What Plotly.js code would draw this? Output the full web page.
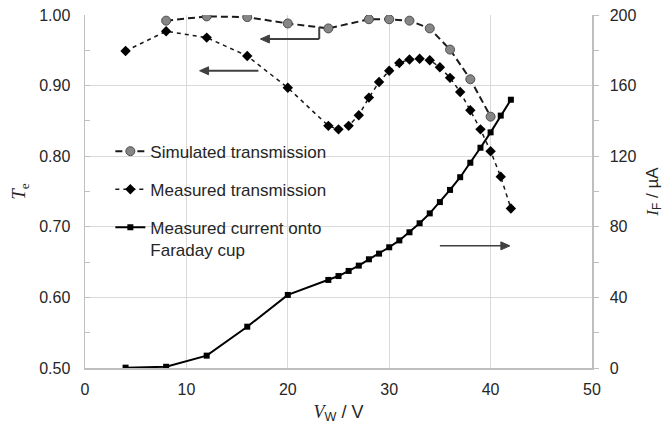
<!DOCTYPE html>
<html>
<head>
<meta charset="utf-8">
<script src="https://cdn.plot.ly/plotly-3.0.1.min.js"></script>
<style>html,body{margin:0;padding:0;background:#fff;}#chart{width:672px;height:427px;}</style>
</head>
<body>
<div id="chart"></div>
<script>
// ---- data ----
const simV = [8, 12, 16, 20, 24, 28, 30, 32, 34, 36, 38, 40];
const simT = [0.992, 0.998, 0.997, 0.988, 0.981, 0.994, 0.994, 0.992, 0.981, 0.951, 0.909, 0.856];

const measV = [4, 8, 12, 16, 20, 24, 25, 26, 27, 28, 29, 30, 31, 32, 33, 34, 35, 36, 37, 38, 39, 40, 41, 42];
const measT = [0.949, 0.977, 0.968, 0.942, 0.897, 0.843, 0.838, 0.843, 0.858, 0.883, 0.905, 0.921,
               0.932, 0.937, 0.938, 0.936, 0.926, 0.911, 0.891, 0.865, 0.838, 0.807, 0.771, 0.726];

const curV = [4, 8, 12, 16, 20, 24, 25, 26, 27, 28, 29, 30, 31, 32, 33, 34, 35, 36, 37, 38, 39, 40, 41, 42];
const curI = [0.2, 0.7, 7.0, 23.4, 41.4, 49.9, 52.1, 55.0, 58.0, 61.6, 64.8, 68.4,
              72.3, 76.9, 82.0, 87.6, 94.0, 100.9, 108.1, 116.3, 124.8, 133.5, 143.0, 152.0];

const names = ["Simulated transmission", "Measured transmission", "Measured current onto<br>Faraday cup"];

// ---- traces ----
const FONT = "Liberation Sans, Arial, sans-serif";
const SERIF = "Liberation Serif, Times New Roman, serif";
const TXT = "#262626";

const traces = [
  {
    x: simV, y: simT, name: names[0], type: "scatter", mode: "lines+markers",
    legendgroup: "a",
    line: {color: "#1a1a1a", width: 2, dash: "7px,4px"},
    marker: {symbol: "circle", size: 9, color: "#868686", line: {color: "#4d4d4d", width: 1}},
    yaxis: "y"
  },
  {
    x: measV, y: measT, name: names[1], type: "scatter", mode: "lines+markers",
    legendgroup: "b",
    line: {color: "#1a1a1a", width: 1.5, dash: "4px,4px"},
    marker: {symbol: "diamond", size: 8, color: "#000"},
    yaxis: "y"
  },
  {
    x: curV, y: curI, name: names[2], type: "scatter", mode: "lines+markers",
    legendgroup: "c",
    line: {color: "#000", width: 2},
    marker: {symbol: "square", size: 6, color: "#000"},
    yaxis: "y2"
  }
];

const ARW = "#404040";
function arrowLine(x0, x1, y, w) {
  return {type: "line", xref: "x", yref: "y", x0: x0, x1: x1, y0: y, y1: y,
          line: {color: ARW, width: w}};
}
function arrowHead(x, y, dir) {
  const p = dir < 0 ? "M0,0 L9,-4 L9,4 Z" : "M0,0 L-9,-4 L-9,4 Z";
  return {type: "path", xref: "x", yref: "y", xsizemode: "pixel", ysizemode: "pixel",
          xanchor: x, yanchor: y, path: p, fillcolor: ARW, line: {color: ARW, width: 1}};
}

const layout = {
  width: 672, height: 427,
  margin: {l: 85, r: 80, t: 15, b: 59},
  paper_bgcolor: "#fff", plot_bgcolor: "#fff",
  font: {family: FONT, size: 16, color: TXT},
  showlegend: true,
  legend: {
    x: 0.05, y: 0.664, xanchor: "left", yanchor: "top",
    bgcolor: "rgba(0,0,0,0)", font: {family: FONT, size: 17, color: TXT},
    tracegroupgap: 13, valign: "top", itemwidth: 30
  },
  xaxis: {
    range: [0, 50], dtick: 10, tick0: 0,
    showgrid: true, gridcolor: "#d9d9d9", gridwidth: 1,
    showline: true, linecolor: "#bfbfbf", linewidth: 1.5,
    zeroline: false, ticks: "", ticklabelstandoff: 6,
    tickfont: {family: FONT, size: 16, color: TXT},
    title: {
      text: '<span style="font-family:Liberation Serif;font-style:italic">V</span><sub>W</sub> / V',
      font: {family: FONT, size: 18, color: TXT}, standoff: 8
    }
  },
  yaxis: {
    range: [0.5, 1.0], dtick: 0.1, tick0: 0.5, tickformat: ".2f",
    showgrid: true, gridcolor: "#d9d9d9", gridwidth: 1,
    showline: true, linecolor: "#bfbfbf", linewidth: 1.5,
    zeroline: false, ticks: "inside", ticklen: 5, tickcolor: "#bfbfbf",
    minor: {dtick: 0.05, ticks: "inside", ticklen: 5, tickcolor: "#bfbfbf", showgrid: false},
    ticklabelstandoff: 10,
    tickfont: {family: FONT, size: 16, color: TXT},
    title: {
      text: '<span style="font-family:Liberation Serif;font-style:italic">T</span><sub>e</sub>',
      font: {family: SERIF, size: 19, color: TXT}, standoff: 8
    }
  },
  yaxis2: {
    range: [0, 200], dtick: 40, tick0: 0,
    overlaying: "y", side: "right", anchor: "x",
    showgrid: false, showline: true, linecolor: "#bfbfbf", linewidth: 1.5,
    zeroline: false, ticks: "outside", ticklen: 5, tickcolor: "#bfbfbf",
    minor: {dtick: 20, ticks: "outside", ticklen: 5, tickcolor: "#bfbfbf", showgrid: false},
    ticklabelstandoff: 8,
    tickfont: {family: FONT, size: 16, color: TXT},
    title: {
      text: '<span style="font-family:Liberation Serif;font-style:italic">I</span><sub>F</sub> / µA',
      font: {family: FONT, size: 17, color: TXT}, standoff: 10
    }
  },
  shapes: [
    {type: "line", xref: "x", yref: "y", x0: 23.1, x1: 23.1, y0: 0.983, y1: 0.966,
     line: {color: ARW, width: 2}},
    arrowLine(18.0, 23.1, 0.966, 2),
    arrowHead(17.3, 0.966, -1),
    arrowLine(12.0, 17.1, 0.921, 2),
    arrowHead(11.3, 0.921, -1),
    arrowLine(35.0, 41.2, 0.673, 1.5),
    arrowHead(41.9, 0.673, 1)
  ]
};

Plotly.newPlot("chart", traces, layout, {staticPlot: true, displayModeBar: false});
</script>
</body>
</html>
